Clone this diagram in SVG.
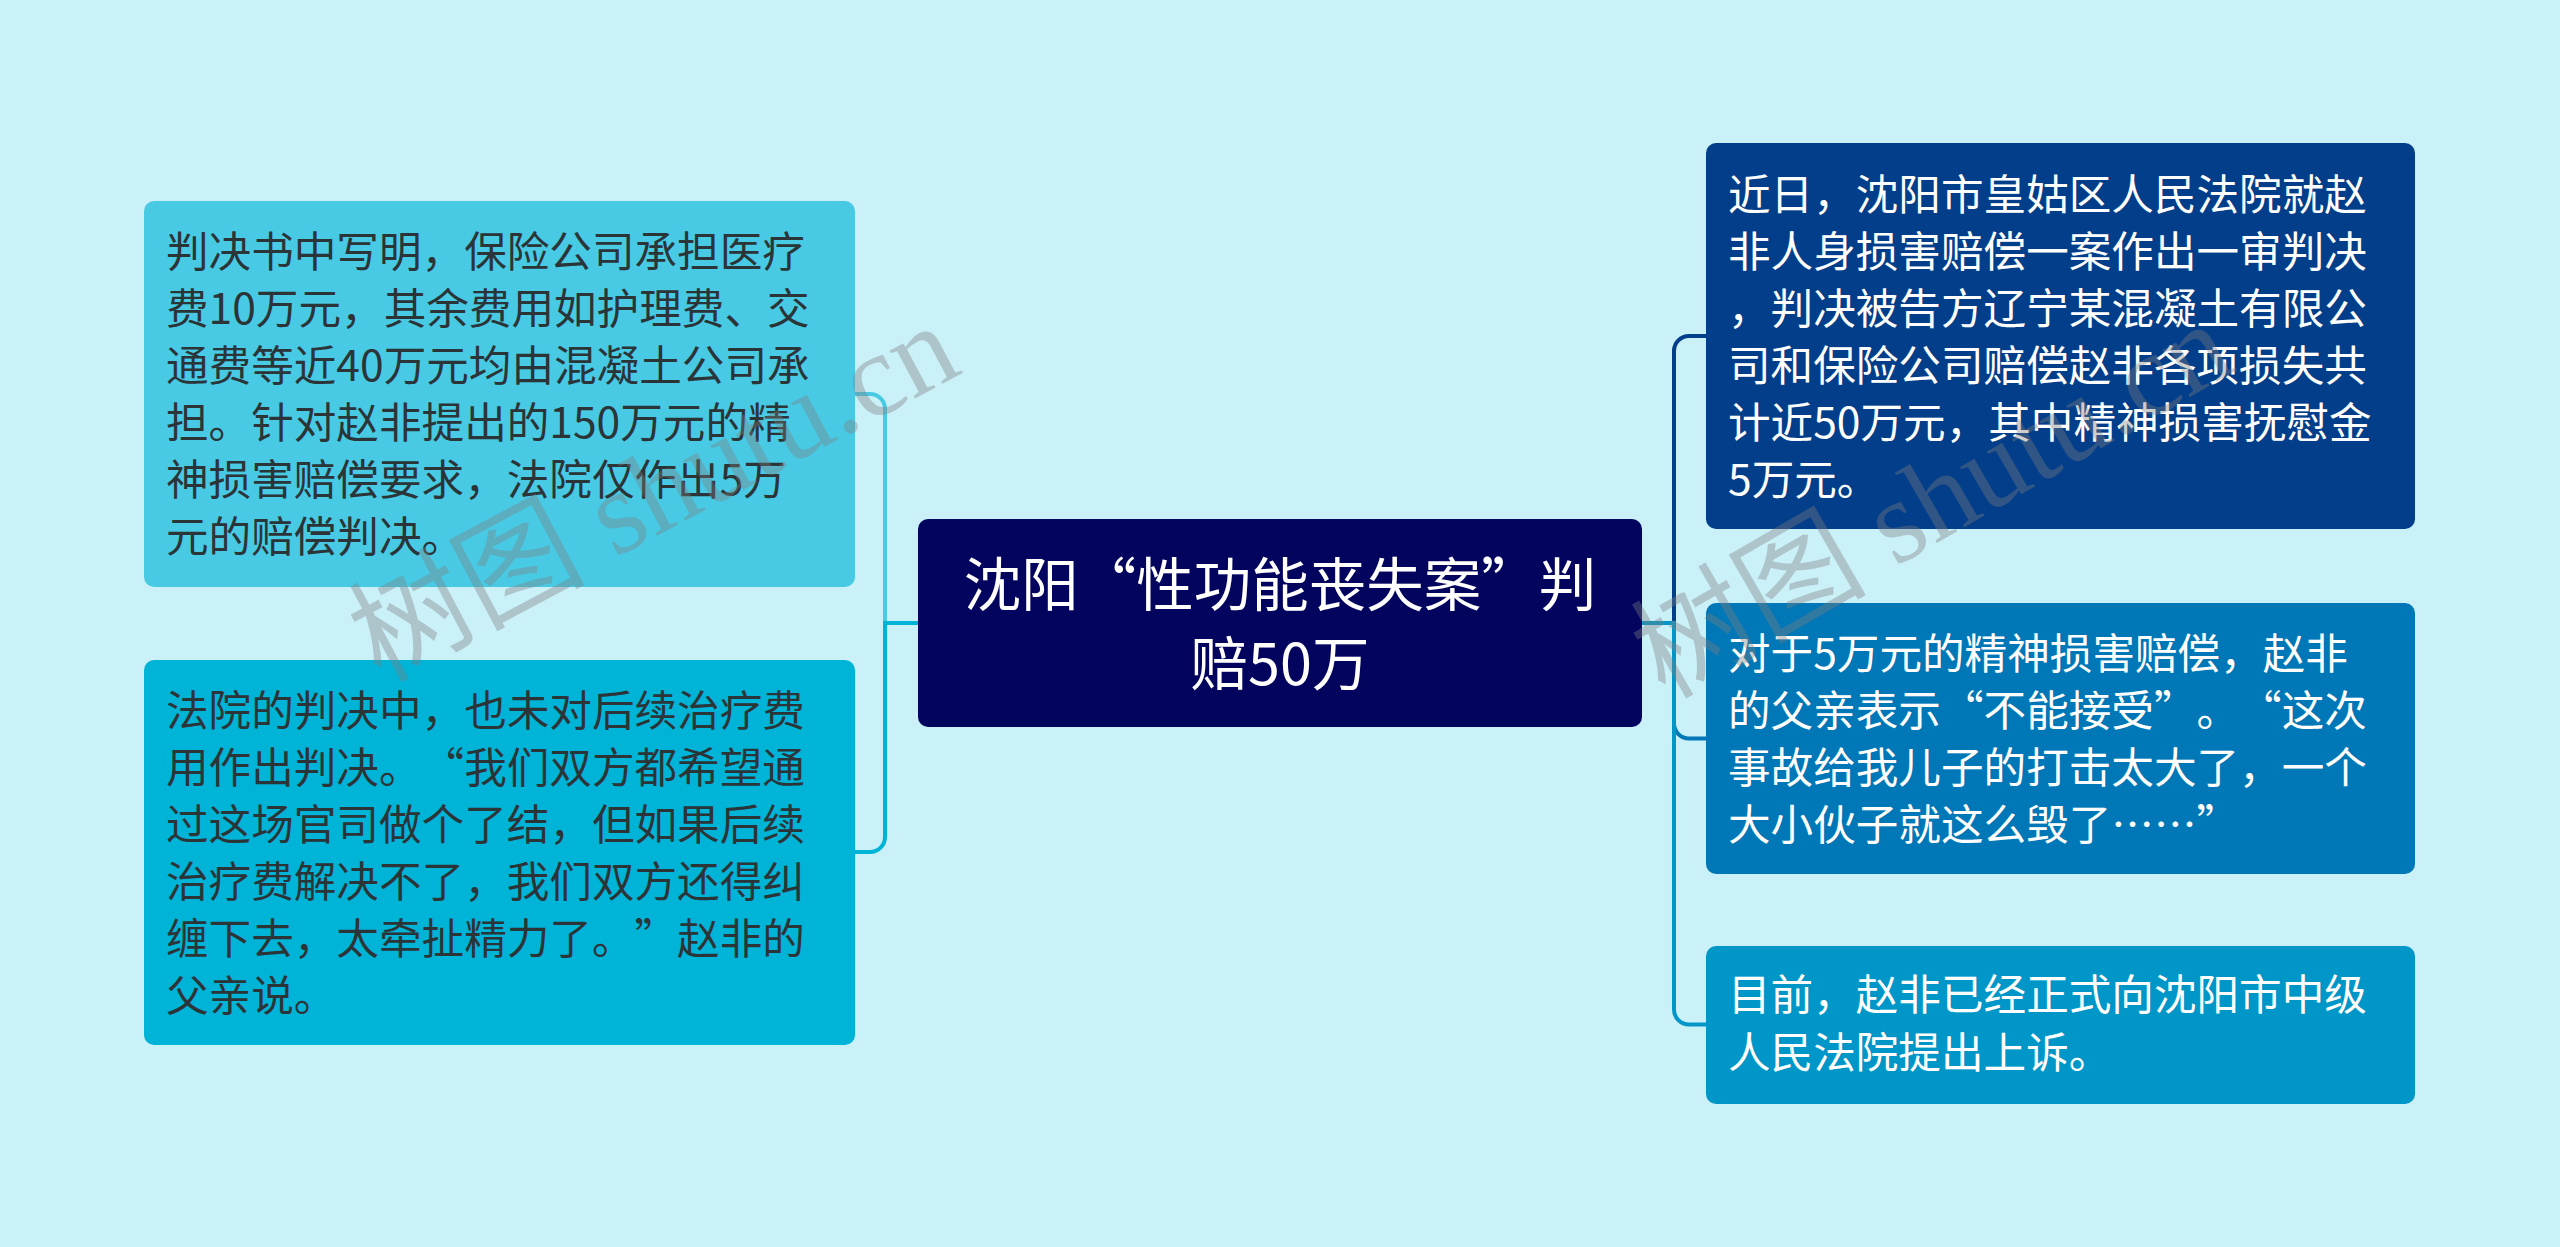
<svg xmlns="http://www.w3.org/2000/svg" width="2560" height="1247" viewBox="0 0 2560 1247">
<style>
text{text-spacing-trim:space-all;font-kerning:none}
.t{font-family:"Noto Sans CJK SC","Noto Sans",sans-serif;font-size:42.6px}
.dk{fill:#2B3538}
.wt{fill:#FFFFFF}
.ct{font-family:"Noto Sans CJK SC","Noto Sans",sans-serif;font-size:57.5px;fill:#FFFFFF;text-anchor:middle}
.ln{fill:none;stroke-width:4;stroke-linecap:round}
.wm{font-family:"Liberation Serif","Noto Sans CJK SC",serif;font-size:118px;fill:#7F7F7F;fill-opacity:0.38}
</style>
<rect x="0" y="0" width="2560" height="1247" fill="#CAF0F8"/>
<g id="connectors">
<path class="ln" stroke="#48CAE4" d="M918,623 H885 V409 A15,15 0 0 0 870,394 H854"/>
<path class="ln" stroke="#00B4D8" d="M918,623 H885 V837 A15,15 0 0 1 870,852 H854"/>
<path class="ln" stroke="#023E8A" d="M1642,623 H1674 V351 A15,15 0 0 1 1689,336 H1706"/>
<path class="ln" stroke="#0077B6" d="M1642,623 H1674 V723.5 A15,15 0 0 0 1689,738.5 H1706"/>
<path class="ln" stroke="#0096C7" d="M1642,623 H1674 V1009.5 A15,15 0 0 0 1689,1024.5 H1706"/>
</g>
<g id="center">
<rect x="918" y="519" width="724" height="208" rx="10" fill="#03045E"/>
<text class="ct" x="1280" y="606">沈阳“性功能丧失案”判</text>
<text class="ct" x="1280" y="685">赔50万</text>
</g>
<g id="left1">
<rect x="144" y="201" width="711" height="386" rx="10" fill="#48CAE4"/>
<text class="t dk" x="166" y="267">判决书中写明，保险公司承担医疗</text>
<text class="t dk" x="166" y="324">费10万元，其余费用如护理费、交</text>
<text class="t dk" x="166" y="381">通费等近40万元均由混凝土公司承</text>
<text class="t dk" x="166" y="438">担。针对赵非提出的150万元的精</text>
<text class="t dk" x="166" y="495">神损害赔偿要求，法院仅作出5万</text>
<text class="t dk" x="166" y="552">元的赔偿判决。</text>
</g>
<g id="left2">
<rect x="144" y="660" width="711" height="385" rx="10" fill="#00B4D8"/>
<text class="t dk" x="166" y="726">法院的判决中，也未对后续治疗费</text>
<text class="t dk" x="166" y="783">用作出判决。“我们双方都希望通</text>
<text class="t dk" x="166" y="840">过这场官司做个了结，但如果后续</text>
<text class="t dk" x="166" y="897">治疗费解决不了，我们双方还得纠</text>
<text class="t dk" x="166" y="954">缠下去，太牵扯精力了。”赵非的</text>
<text class="t dk" x="166" y="1011">父亲说。</text>
</g>
<g id="right1">
<rect x="1706" y="143" width="709" height="386" rx="10" fill="#023E8A"/>
<text class="t wt" x="1728" y="210">近日，沈阳市皇姑区人民法院就赵</text>
<text class="t wt" x="1728" y="267">非人身损害赔偿一案作出一审判决</text>
<text class="t wt" x="1728" y="324">，判决被告方辽宁某混凝土有限公</text>
<text class="t wt" x="1728" y="381">司和保险公司赔偿赵非各项损失共</text>
<text class="t wt" x="1728" y="438">计近50万元，其中精神损害抚慰金</text>
<text class="t wt" x="1728" y="495">5万元。</text>
</g>
<g id="right2">
<rect x="1706" y="603" width="709" height="271" rx="10" fill="#0077B6"/>
<text class="t wt" x="1728" y="669">对于5万元的精神损害赔偿，赵非</text>
<text class="t wt" x="1728" y="726">的父亲表示“不能接受”。“这次</text>
<text class="t wt" x="1728" y="783">事故给我儿子的打击太大了，一个</text>
<text class="t wt" x="1728" y="840">大小伙子就这么毁了……”</text>
</g>
<g id="right3">
<rect x="1706" y="946" width="709" height="158" rx="10" fill="#0096C7"/>
<text class="t wt" x="1728" y="1010">目前，赵非已经正式向沈阳市中级</text>
<text class="t wt" x="1728" y="1068">人民法院提出上诉。</text>
</g>
<g id="watermarks">
<text class="wm" transform="translate(380,683) rotate(-28)">树图 shutu.cn</text>
<text class="wm" transform="translate(1665,700) rotate(-30)">树图 shutu.cn</text>
</g>
</svg>
